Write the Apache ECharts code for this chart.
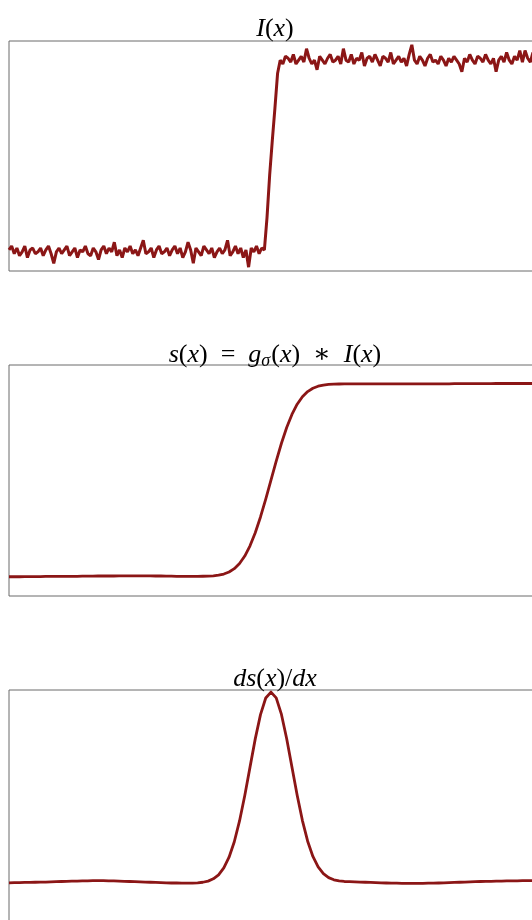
<!DOCTYPE html>
<html>
<head>
<meta charset="utf-8">
<script src="https://cdn.jsdelivr.net/npm/echarts@6/dist/echarts.min.js"></script>
<style>
html,body{margin:0;padding:0;background:#fff;}
#c{width:532px;height:920px;}
</style>
</head>
<body>
<div id="c"></div>
<script>
// I(x): noisy step (200 samples across the domain)
var noisyStep = [
 0.01,0.03,-0.01,0.02,-0.02,0.00,0.03,-0.03,0.01,0.02,
 -0.01,0.00,0.02,-0.02,0.01,0.03,-0.01,-0.06,0.00,0.02,
 -0.01,0.01,0.03,-0.02,0.00,0.02,-0.03,0.01,0.00,0.03,
 -0.01,-0.02,0.02,0.00,-0.04,0.01,0.03,-0.01,0.02,0.00,
 0.05,-0.02,0.01,-0.03,0.02,0.00,0.03,-0.01,0.01,-0.02,
 0.02,0.06,-0.01,0.00,0.02,-0.03,0.01,0.03,-0.01,0.00,
 0.02,-0.02,0.01,0.03,-0.01,0.02,-0.03,0.00,0.05,0.01,
 -0.06,0.02,0.00,-0.02,0.03,0.01,-0.01,0.02,-0.03,0.00,
 0.02,-0.01,0.01,0.06,-0.02,0.00,0.03,-0.01,0.02,-0.03,
 0.01,-0.08,0.02,0.00,0.03,-0.01,0.02,
 0.01,0.18,0.40,0.58,0.75,0.93,
 1.00,0.98,1.02,1.01,0.99,1.03,0.98,1.00,1.02,0.99,
 1.06,1.01,0.98,1.00,0.95,1.02,1.00,0.98,1.01,1.03,
 0.99,1.00,1.02,0.98,1.06,1.00,0.99,1.03,0.98,1.01,
 1.00,1.04,0.97,1.01,1.02,0.99,1.03,1.00,0.97,1.02,
 1.01,0.99,1.04,0.98,1.00,1.02,0.99,1.01,0.97,1.03,
 1.08,1.00,0.98,1.02,1.00,0.97,1.01,1.03,0.99,1.00,
 0.98,1.02,1.00,0.97,1.01,0.99,1.02,1.00,0.98,0.94,
 1.01,0.99,1.03,1.00,0.98,1.02,1.01,0.99,1.03,1.00,
 0.98,1.01,0.94,1.00,1.02,0.99,1.04,1.00,0.98,1.02,
 1.00,1.05,0.99,1.05,1.01,0.99,1.04
];

// s(x): smoothed step (101 samples)
var smoothStep = [
 0.000,0.000,0.000,0.001,0.001,0.001,0.001,0.002,0.002,0.002,
 0.002,0.002,0.002,0.002,0.003,0.003,0.003,0.004,0.004,0.004,
 0.004,0.005,0.005,0.005,0.005,0.005,0.005,0.005,0.004,0.004,
 0.003,0.003,0.002,0.002,0.002,0.002,0.0022,0.0026,0.0033,0.0050,
 0.0082,0.0142,0.0248,0.0421,0.0688,0.1076,0.1607,0.2286,0.3105,0.4033,
 0.502,0.6007,0.6935,0.7754,0.8433,0.8964,0.9352,0.9619,0.9792,0.9898,
 0.9958,0.999,1.0007,1.0014,1.0018,1.002,1.002,1.002,1.002,1.002,
 1.002,1.002,1.002,1.002,1.002,1.002,1.002,1.002,1.002,1.002,
 1.002,1.002,1.002,1.002,1.002,1.003,1.003,1.003,1.003,1.003,
 1.003,1.003,1.003,1.004,1.004,1.004,1.004,1.004,1.004,1.004,
 1.004
];

// ds(x)/dx: derivative (101 samples)
var derivative = [
 0.000,0.001,0.001,0.002,0.002,0.003,0.004,0.004,0.005,0.006,
 0.007,0.008,0.009,0.009,0.010,0.010,0.011,0.011,0.011,0.010,
 0.010,0.009,0.008,0.007,0.006,0.005,0.004,0.003,0.002,0.001,
 0.000,-0.001,-0.001,-0.002,-0.002,-0.002,0.000,0.003,0.009,0.021,
 0.042,0.078,0.134,0.215,0.324,0.457,0.606,0.754,0.881,0.968,
 0.999,0.969,0.882,0.755,0.607,0.459,0.326,0.218,0.138,0.083,
 0.048,0.027,0.016,0.010,0.007,0.006,0.005,0.004,0.003,0.002,
 0.001,0.000,-0.001,-0.002,-0.002,-0.003,-0.003,-0.003,-0.003,-0.003,
 -0.002,-0.002,-0.001,0.000,0.001,0.002,0.003,0.004,0.005,0.006,
 0.007,0.008,0.008,0.009,0.009,0.010,0.010,0.010,0.011,0.011,
 0.011
];

var lineColor = '#8b1616';
var borderColor = '#6a6a6a';

function toPairs(arr){
  var n = arr.length, out = [];
  for (var i = 0; i < n; i++) out.push([i/(n-1), arr[i]]);
  return out;
}

var serif = "'Liberation Serif','DejaVu Serif',serif";
var rich = {
  i: {fontFamily: serif, fontStyle: 'italic', fontWeight: 'normal', fontSize: 26, color: '#000'},
  r: {fontFamily: serif, fontStyle: 'normal', fontWeight: 'normal', fontSize: 26, color: '#000'},
  sub: {fontFamily: serif, fontStyle: 'italic', fontWeight: 'normal', fontSize: 18, color: '#000', padding: [12,1,0,0]}
};

var grids = [
  {left: 9, width: 525, top: 41, height: 230},
  {left: 9, width: 525, top: 365, height: 231},
  {left: 9, width: 525, top: 690, height: 231}
];
grids.forEach(function(g){
  g.show = true; g.borderColor = borderColor; g.borderWidth = 1;
  g.backgroundColor = 'transparent'; g.outerBoundsMode = 'none'; g.containLabel = false;
});

var yRanges = [[-0.1, 1.1], [-0.1, 1.1], [-0.2, 1.01]];

var titleStyle = {fontWeight: 'normal', fontFamily: serif, rich: rich};

var option = {
  animation: false,
  backgroundColor: '#fff',
  title: [
    {text: '{i|I}{r|(}{i|x}{r|)}', left: 270, textAlign: 'center', top: 11, textStyle: titleStyle},
    {text: '{i|s}{r|(}{i|x}{r|)  =  }{i|g}{sub|σ}{r|(}{i|x}{r|)  ∗  }{i|I}{r|(}{i|x}{r|)}', left: 270, textAlign: 'center', top: 335, textStyle: titleStyle},
    {text: '{i|ds}{r|(}{i|x}{r|)/}{i|dx}', left: 270, textAlign: 'center', top: 661, textStyle: titleStyle}
  ],
  grid: grids,
  xAxis: grids.map(function(g, k){
    return {type: 'value', gridIndex: k, min: 0, max: 1.002, show: false, splitLine: {show: false}};
  }),
  yAxis: yRanges.map(function(r, k){
    return {type: 'value', gridIndex: k, min: r[0], max: r[1], show: false, splitLine: {show: false}};
  }),
  series: [
    {type: 'line', xAxisIndex: 0, yAxisIndex: 0, data: toPairs(noisyStep), showSymbol: false, lineStyle: {color: lineColor, width: 3}, silent: true},
    {type: 'line', xAxisIndex: 1, yAxisIndex: 1, data: toPairs(smoothStep), showSymbol: false, lineStyle: {color: lineColor, width: 2.8, join: 'round'}, silent: true},
    {type: 'line', xAxisIndex: 2, yAxisIndex: 2, data: toPairs(derivative), showSymbol: false, lineStyle: {color: lineColor, width: 2.8, join: 'round'}, silent: true}
  ]
};

var chart = echarts.init(document.getElementById('c'), null, {renderer: 'canvas'});
chart.setOption(option);
</script>
</body>
</html>
